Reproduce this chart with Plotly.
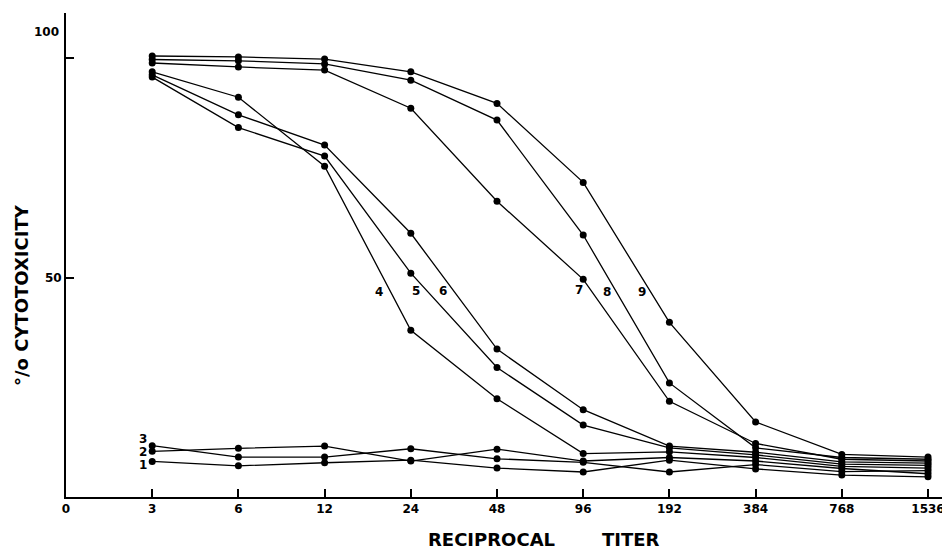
import plotly.graph_objects as go

# ---- data -------------------------------------------------------------
tick_labels = ["0", "3", "6", "12", "24", "48", "96", "192", "384", "768", "1536"]
titers = ["3", "6", "12", "24", "48", "96", "192", "384", "768", "1536"]

s1 = [8.1, 7.1, 7.8, 8.4, 6.6, 5.7, 8.4, 6.4, 5.0, 4.6]
s2 = [10.4, 11.1, 11.6, 8.2, 10.9, 8.2, 9.0, 8.2, 6.5, 5.3]
s3 = [11.7, 9.1, 9.1, 11.0, 8.7, 7.9, 5.7, 7.4, 5.8, 6.0]
s4 = [96.9, 91.1, 75.4, 38.0, 22.4, 9.9, 10.3, 9.0, 7.0, 6.6]
s5 = [95.7, 84.2, 77.7, 51.0, 29.5, 16.4, 11.2, 9.6, 7.5, 7.2]
s6 = [96.2, 87.1, 80.2, 60.1, 33.7, 19.9, 11.6, 10.2, 8.0, 7.7]
s7 = [98.9, 98.0, 97.3, 88.6, 67.4, 49.6, 21.8, 12.2, 8.6, 8.2]
s8 = [99.7, 99.4, 98.7, 95.0, 85.9, 59.7, 26.0, 11.2, 9.0, 8.6]
s9 = [100.5, 100.3, 99.8, 96.9, 89.7, 71.7, 39.8, 17.1, 9.7, 9.1]

series = [s1, s2, s3, s4, s5, s6, s7, s8, s9]
series_names = ["1", "2", "3", "4", "5", "6", "7", "8", "9"]

# curve label positions (category index, % value)
label_x = [0.89, 0.89, 0.89, 3.63, 4.06, 4.37, 5.95, 6.28, 6.68]
label_y = [7.2, 10.2, 13.2, 46.7, 46.9, 46.9, 47.2, 46.7, 46.7]

# ---- figure -----------------------------------------------------------
FONT = "DejaVu Sans"
OFF = 8                      # page body margin
W, H = 950 - OFF, 552 - OFF
L, R, T, B = 66 - OFF, 0, 13 - OFF, 55
PW, PH = W - L - R, H - T - B


def px_x(px):
    return (px - OFF - L) / PW


def px_y(py):
    return (H - B - (py - OFF)) / PH


fig = go.Figure()
for name, vals in zip(series_names, series):
    fig.add_trace(go.Scatter(
        x=titers, y=vals, mode="lines+markers", name=name,
        line=dict(color="black", width=1.3),
        marker=dict(color="black", size=7),
        showlegend=False, cliponaxis=False,
    ))

annotations = []
for name, lx, ly in zip(series_names, label_x, label_y):
    annotations.append(dict(
        x=lx, y=ly, xref="x", yref="y", text=name, showarrow=False,
        font=dict(family=FONT, size=12, color="black", weight="bold"),
    ))

# "100" label (drawn above its tick in the original)
annotations.append(dict(
    x=px_x(61), y=px_y(32), xref="paper", yref="paper", text="100",
    showarrow=False, xanchor="right", yanchor="middle",
    font=dict(family=FONT, size=12, color="black", weight="bold"),
))
# axis titles
annotations.append(dict(
    x=px_x(491), y=px_y(539), xref="paper", yref="paper", text="RECIPROCAL",
    showarrow=False, xanchor="center", yanchor="middle",
    font=dict(family=FONT, size=18, color="black", weight="bold"),
))
annotations.append(dict(
    x=px_x(631), y=px_y(539), xref="paper", yref="paper", text="TITER",
    showarrow=False, xanchor="center", yanchor="middle",
    font=dict(family=FONT, size=18, color="black", weight="bold"),
))
annotations.append(dict(
    x=px_x(21), y=px_y(295), xref="paper", yref="paper",
    text="°/o CYTOTOXICITY", showarrow=False, textangle=-90,
    xanchor="center", yanchor="middle",
    font=dict(family=FONT, size=18, color="black", weight="bold"),
))

fig.update_layout(
    width=W, height=H,
    margin=dict(l=L, r=R, t=T, b=B, autoexpand=False),
    paper_bgcolor="white", plot_bgcolor="white",
    annotations=annotations,
    xaxis=dict(
        type="category", categoryorder="array", categoryarray=tick_labels,
        range=[0, 10.255], tickmode="array", tickvals=tick_labels,
        ticktext=tick_labels, showgrid=False, zeroline=False,
        showline=True, linecolor="black", linewidth=2,
        ticks="inside", ticklen=8, tickwidth=1.5, tickcolor="black",
        automargin=False,
        tickfont=dict(family=FONT, size=12, color="black", weight="bold"),
    ),
    yaxis=dict(
        range=[0, 110.3], tickmode="array", tickvals=[50, 100],
        ticktext=["50", ""], showgrid=False, zeroline=False,
        showline=True, linecolor="black", linewidth=2,
        ticks="inside", ticklen=8, tickwidth=1.5, tickcolor="black",
        automargin=False,
        tickfont=dict(family=FONT, size=12, color="black", weight="bold"),
    ),
)

fig.write_html("out.html")
